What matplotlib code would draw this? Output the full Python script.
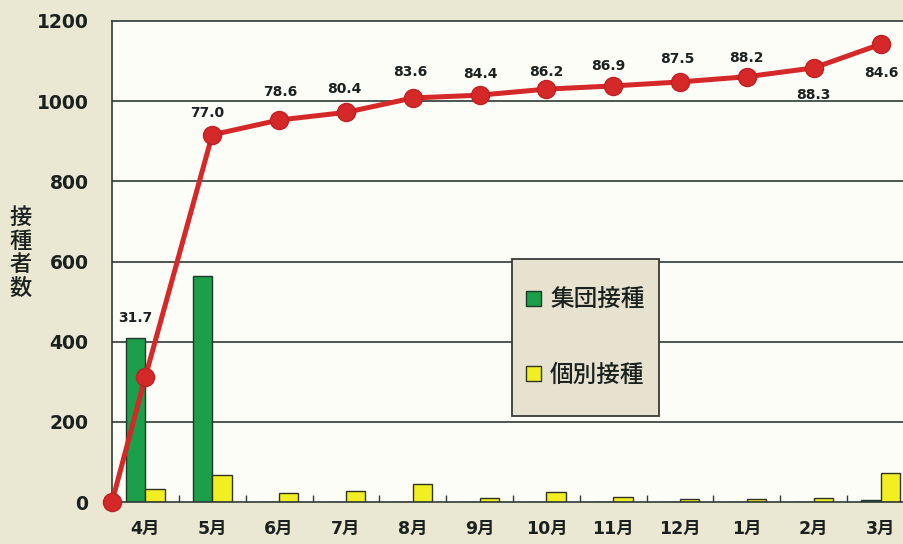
import matplotlib
matplotlib.use("Agg")
import matplotlib.pyplot as plt
import numpy as np
from matplotlib.patches import Rectangle

# ---- data -------------------------------------------------------------
months = ["4月", "5月", "6月", "7月", "8月", "9月",
          "10月", "11月", "12月", "1月", "2月", "3月"]
group_vacc = [410, 565, 0, 0, 0, 0, 0, 0, 0, 0, 0, 5]          # 集団接種
indiv_vacc = [32, 68, 22, 27, 46, 9, 26, 12, 8, 7, 11, 73]     # 個別接種
cumulative = [313, 916, 953, 972, 1008, 1015, 1030, 1038, 1048, 1061, 1083, 1142]
start_value = 0
rate_labels = ["31.7", "77.0", "78.6", "80.4", "83.6", "84.4",
               "86.2", "86.9", "87.5", "88.2", "88.3", "84.6"]
y_ticks = [0, 200, 400, 600, 800, 1000, 1200]

# ---- style ------------------------------------------------------------
FIG_BG = "#eae7d3"
PLOT_BG = "#fdfdf8"
GRID = "#2e3b36"
RED = "#d42829"
GREEN = "#1b9f4a"
YELLOW = "#f1ef22"
TXT = "#1a211e"
NUM_FONT = ["DejaVu Sans", "Noto Sans CJK JP"]
JP_FONT = ["Noto Sans CJK JP", "DejaVu Sans"]

W, H = 904, 544
fig = plt.figure(figsize=(W / 100, H / 100), dpi=100, facecolor=FIG_BG)

# axes spans from x=112px to beyond the right edge, y 21px..502px
left, right, top, bottom = 112, 914, 21, 502
ax = fig.add_axes([left / W, 1 - bottom / H, (right - left) / W, (bottom - top) / H])
ax.set_facecolor(PLOT_BG)

n = len(months)
x = np.arange(n)
bw = 0.29

ax.set_xlim(-0.5, n - 0.5)
ax.set_ylim(0, 1200)

# horizontal grid
for yv in y_ticks[1:-1]:
    ax.axhline(yv, color=GRID, lw=1.2, zorder=1)

bars_g = ax.bar(x - bw / 2, group_vacc, bw, color=GREEN, edgecolor="#1c3a28",
                linewidth=1.0, zorder=2, label="集団接種")
bars_y = ax.bar(x + bw / 2, indiv_vacc, bw, color=YELLOW, edgecolor="#333322",
                linewidth=1.0, zorder=2, label="個別接種")

# cumulative line, starting from the origin at the left edge
line_x = np.concatenate([[ax.get_xlim()[0]], x])
line_y = np.concatenate([[start_value], cumulative])
ax.plot(line_x, line_y, color=RED, lw=3.6, marker="o", markersize=13,
        markerfacecolor=RED, markeredgecolor="#bf2024", zorder=4, clip_on=False)

# rate labels (pixel offsets from each point)
offsets_px = [(0, 0), (-5, 22), (1, 28), (-2, 23), (-2, 26), (1, 21),
              (0, 17), (-5, 20), (-3, 23), (-1, 19), (0, -27), (1, -29)]
for i, lab in enumerate(rate_labels):
    if i == 0:
        # first label sits above the group bar
        ax.annotate(lab, (x[i] - bw / 2, group_vacc[i]), xytext=(0, 20 * 0.72),
                    textcoords="offset points", ha="center", va="center",
                    fontsize=10, fontweight="bold", color=TXT, family=NUM_FONT,
                    zorder=5)
        continue
    dx, dy = offsets_px[i]
    ax.annotate(lab, (x[i], cumulative[i]), xytext=(dx * 0.72, dy * 0.72),
                textcoords="offset points", ha="center", va="center",
                fontsize=10, fontweight="bold", color=TXT, family=NUM_FONT,
                zorder=5)

# axes frame
for side in ["left", "top", "bottom"]:
    ax.spines[side].set_color(GRID)
    ax.spines[side].set_linewidth(1.2)
ax.spines["right"].set_visible(False)

ax.set_yticks(y_ticks)
ax.set_yticklabels([str(v) for v in y_ticks], family=NUM_FONT, fontsize=13.5,
                   fontweight="bold", color=TXT)
ax.tick_params(axis="y", length=0, pad=17)

ax.set_xticks(x)
ax.set_xticklabels(months, family=NUM_FONT, fontsize=12.5, fontweight="bold",
                   color=TXT)
ax.tick_params(axis="x", which="major", length=0, pad=13)
ax.set_xticks(np.arange(0.5, n - 0.5, 1), minor=True)
ax.tick_params(axis="x", which="minor", direction="in", length=5, width=1.0,
               color=GRID)

# stacked vertical axis title
fig.text(21 / W, 1 - 253 / H, "接\n種\n者\n数", ha="center", va="center",
         family=JP_FONT, fontsize=16, fontweight="medium", linespacing=1.05,
         color=TXT)

# legend box
lx0, ly0, lx1, ly1 = 512, 259, 659, 416
fig.patches.append(Rectangle((lx0 / W, 1 - ly1 / H), (lx1 - lx0) / W,
                             (ly1 - ly0) / H, transform=fig.transFigure,
                             facecolor="#e6e2cf", edgecolor="#3a3a36",
                             linewidth=1.3, zorder=10))
leg = fig.legend(handles=[bars_g, bars_y], loc="center",
                 bbox_to_anchor=((lx0 + lx1) / 2 / W, 1 - (ly0 + ly1) / 2 / H),
                 frameon=False,
                 prop={"family": JP_FONT, "size": 17, "weight": "medium"},
                 handlelength=0.6, handleheight=0.6, handletextpad=0.4,
                 labelspacing=2.2, labelcolor=TXT)
leg.set_zorder(11)

fig.savefig("out.png", dpi=100, facecolor=FIG_BG)
